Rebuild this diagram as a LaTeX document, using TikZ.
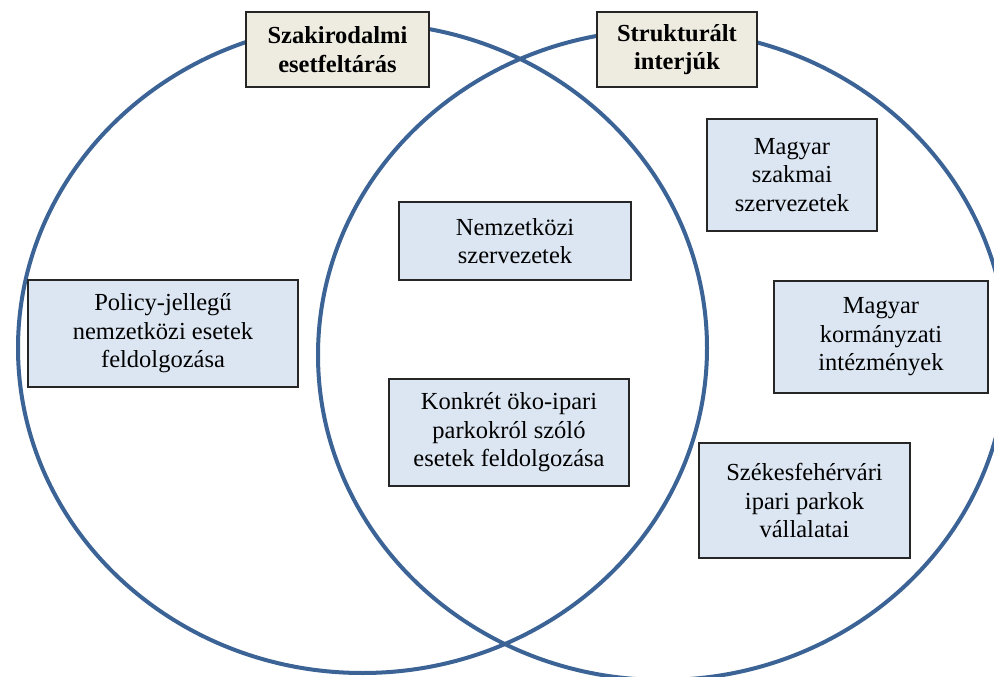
\documentclass[tikz,border=0pt]{standalone}
\usepackage{fontspec}
\setmainfont{Liberation Serif}
\definecolor{ringblue}{HTML}{3B6396}
\definecolor{boxblue}{HTML}{DCE6F2}
\definecolor{boxtan}{HTML}{EEECE1}
\tikzset{
  ring/.style={draw=ringblue, line width=4pt},
  infobox/.style={draw=black!85, line width=1.3pt, fill=boxblue, align=center,
    inner sep=0pt, font=\fontsize{24.5}{28.5}\selectfont},
  titlebox/.style={draw=black!85, line width=1.3pt, fill=boxtan, align=center,
    inner sep=0pt, font=\fontsize{24.5}{28.5}\selectfont\bfseries},
}
\begin{document}
\begin{tikzpicture}[x=1pt,y=-1pt]
\useasboundingbox (0,0) rectangle (994,677);
\fill[white] (0,0) rectangle (994,677);
% rings
\draw[ring] (362.5,348) ellipse [x radius=344.5, y radius=325];
\draw[ring] (662.5,355) ellipse [x radius=344.5, y radius=325];
% title boxes
\node[titlebox, minimum width=183pt, minimum height=75pt] (t1) at (337.5,49.5) {Szakirodalmi\\esetfeltárás};
\node[titlebox, minimum width=160pt, minimum height=75pt] (t2) at (677,49.5) {Strukturált\\interjúk};
% content boxes
\node[infobox, minimum width=270pt, minimum height=107pt] (policy) at (163,333.5) {Policy-jellegű\\nemzetközi esetek\\feldolgozása};
\node[infobox, minimum width=232pt, minimum height=78pt] (nemz) at (515,241) {Nemzetközi\\szervezetek};
\node[infobox, minimum width=240pt, minimum height=107pt] (konk) at (509,432.5) {Konkrét öko-ipari\\parkokról szóló\\esetek feldolgozása};
\node[infobox, minimum width=170pt, minimum height=112pt] (mszak) at (792,175) {Magyar\\szakmai\\szervezetek};
\node[infobox, minimum width=214pt, minimum height=112pt] (mkorm) at (881,337) {Magyar\\kormányzati\\intézmények};
\node[infobox, minimum width=211pt, minimum height=115pt] (szek) at (804.5,500.5) {Székesfehérvári\\ipari parkok\\vállalatai};
\end{tikzpicture}
\end{document}
